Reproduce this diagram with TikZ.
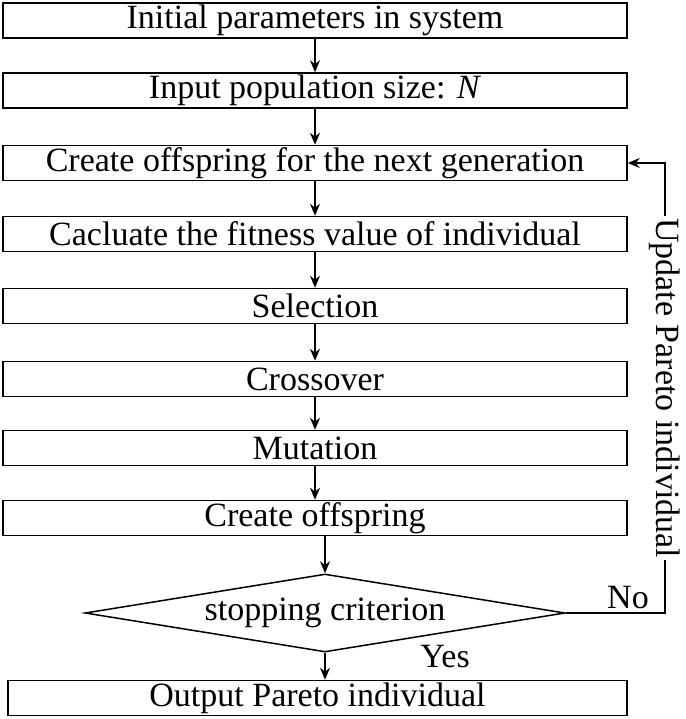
\documentclass[tikz,border=0pt]{standalone}
\usepackage{fontspec}
\setmainfont{Liberation Serif}
\usetikzlibrary{shapes.geometric,arrows.meta}
\tikzset{
  stagebox/.style={draw, line width=1.5pt, minimum width=624pt, minimum height=35pt, inner sep=0pt},
  flow/.style={line width=1.5pt, -{Stealth[length=12pt,width=10pt]}}
}
\begin{document}
\begin{tikzpicture}[x=1pt, y=-1pt, font=\fontsize{34}{40}\selectfont]
\useasboundingbox (0,0) rectangle (685,719);
\node[stagebox] (init) at (315,20.5) {Initial parameters in system};
\node[stagebox] (pop) at (315,90.5) {Input population size: \textit{N}};
\node[stagebox] (create) at (315,163) {Create offspring for the next generation};
\node[stagebox] (fit) at (315,234) {Cacluate the fitness value of individual};
\node[stagebox] (sel) at (315,306) {Selection};
\node[stagebox] (cross) at (315,379) {Crossover};
\node[stagebox] (mut) at (315,448) {Mutation};
\node[stagebox] (off) at (315,518) {Create offspring};
\node[draw, line width=1.5pt, diamond, aspect=6.15, minimum width=480pt, minimum height=78pt, inner sep=0pt] (stop) at (325,613) {stopping criterion};
\node[draw, line width=1.5pt, minimum width=619pt, minimum height=35pt, inner sep=0pt] (out) at (317.5,698) {Output Pareto individual};
%
\draw[flow] (init) -- (pop);
\draw[flow] (pop) -- (create);
\draw[flow] (create) -- (fit);
\draw[flow] (fit) -- (sel);
\draw[flow] (sel) -- (cross);
\draw[flow] (cross) -- (mut);
\draw[flow] (mut) -- (off);
\draw[flow] (off.south -| stop.north) -- (stop.north);
\draw[flow] (stop.south) -- (out.north -| stop.south);
\node at (445,657) {Yes};
\node at (628,598) {No};
\coordinate (corner) at (665,613);
\draw[flow] (stop.east) -- (corner) -- (corner |- create.east) -- (create.east);
\node[rotate=-90, fill=white, inner sep=2pt] at (665,388) {Update Pareto individual};
\end{tikzpicture}
\end{document}
